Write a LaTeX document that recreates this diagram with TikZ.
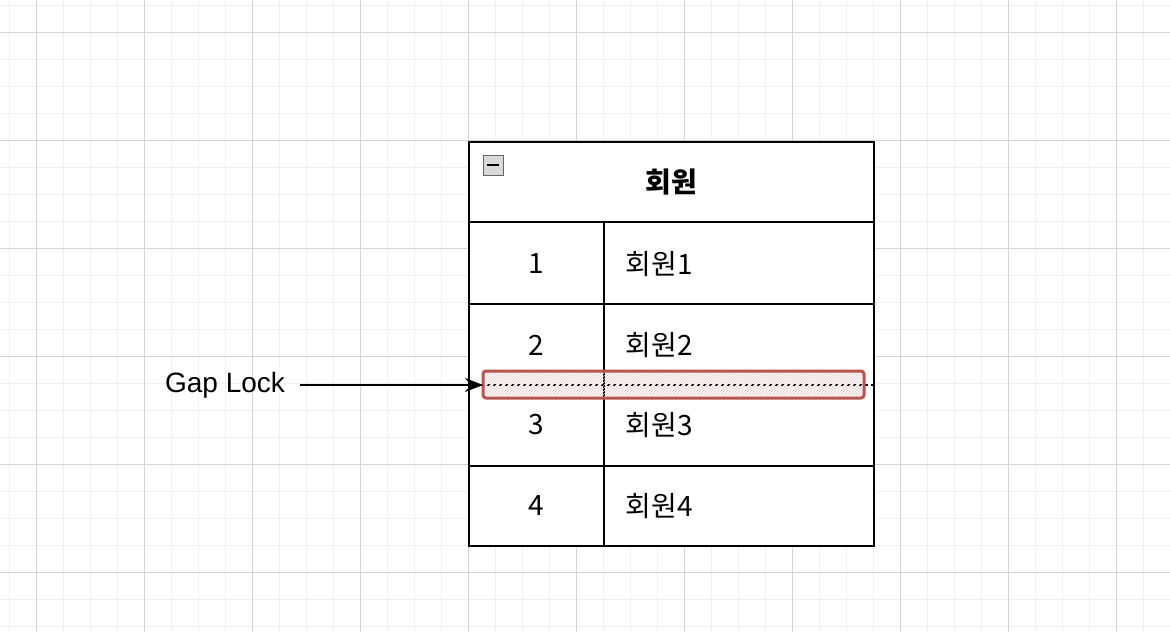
\documentclass[tikz,border=0pt]{standalone}
\usepackage{fontspec}
\setmainfont{Liberation Sans}
\newfontfamily\kofont{Noto Sans CJK KR}
\usetikzlibrary{arrows.meta,patterns}
\definecolor{lockred}{RGB}{184,84,80}
\definecolor{gridmajor}{RGB}{212,212,212}
\definecolor{gridminor}{RGB}{240,240,240}
\tikzset{
  cell/.style={font=\fontsize{28}{30}\selectfont\kofont, anchor=center},
  rowline/.style={line width=2pt, black},
}
\begin{document}
\begin{tikzpicture}[x=1pt,y=-1pt]
\useasboundingbox (0,0) rectangle (1170,632);

% grid
\foreach \x in {9,36,...,1170} \draw[gridminor, line width=1pt] (\x,0) -- (\x,632);
\foreach \y in {5,32,...,632} \draw[gridminor, line width=1pt] (0,\y) -- (1170,\y);
\foreach \x in {36,144,...,1170} \draw[gridmajor, line width=1pt] (\x,0) -- (\x,632);
\foreach \y in {32,140,...,632} \draw[gridmajor, line width=1pt] (0,\y) -- (1170,\y);

% table
\fill[white] (469,142) rectangle (874,546);
\draw[rowline] (469,142) rectangle (874,546);
\draw[rowline] (469,222) -- (874,222);
\draw[rowline] (469,304) -- (874,304);
\draw[rowline] (469,466) -- (874,466);
\draw[rowline] (604,222) -- (604,546);
\draw[line width=2pt, dashed] (469,385) -- (874,385);

% collapse icon
\draw[gray!80!black, fill=gray!30, line width=1pt] (483,155) rectangle (503,175);
\draw[black, line width=1.5pt] (487,165) -- (499,165);

\node[cell, font=\fontsize{28}{30}\selectfont\kofont\bfseries] (title) at (671,182) {회원};
\foreach \n/\y in {1/264,2/345,3/425,4/506}{
  \node[cell] (id\n) at (536,\y) {\n};
  \node[cell, anchor=west] (name\n) at (622,\y) {회원\n};
}

% gap lock
\draw[lockred, line width=3pt, rounded corners=3pt, pattern=north east lines, pattern color=lockred!35]
  (483,371) rectangle (864,398);
\coordinate (lock) at (483,385);
\node[font=\fontsize{28}{30}\selectfont, anchor=center] (gap) at (225,385) {Gap Lock};
\draw[line width=2pt, -{Stealth[length=18pt,width=14pt]}] (gap.east) ++(12,0) -- (lock);
\end{tikzpicture}
\end{document}
